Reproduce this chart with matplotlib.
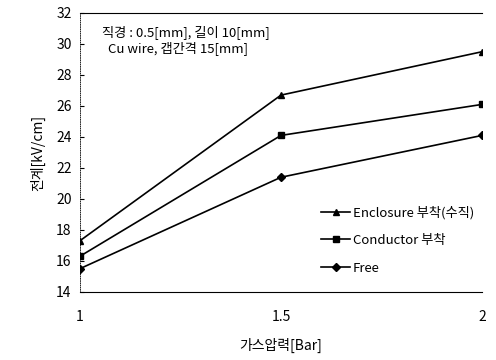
import matplotlib
matplotlib.use("Agg")
from matplotlib import pyplot as plt

plt.rcParams['font.family'] = ['Noto Sans CJK KR', 'DejaVu Sans']

pressure = [1, 1.5, 2]
enclosure = [17.3, 26.7, 29.5]
conductor = [16.3, 24.1, 26.1]
free = [15.5, 21.4, 24.1]
labels = ["Enclosure 부착(수직)", "Conductor 부착", "Free"]

fig = plt.figure(figsize=(4.96, 3.6), dpi=100)
ax = fig.add_axes([0.161, 0.189, 0.811, 0.775])

ax.plot(pressure, enclosure, color='black', lw=1.2, marker='^', ms=5, label=labels[0])
ax.plot(pressure, conductor, color='black', lw=1.2, marker='s', ms=5, label=labels[1])
ax.plot(pressure, free, color='black', lw=1.2, marker='D', ms=4, label=labels[2])

ax.set_xlim(1, 2)
ax.set_ylim(14, 32)
ax.set_xticks([1, 1.5, 2])
ax.set_xticklabels(["1", "1.5", "2"])
ax.set_yticks(range(14, 33, 2))

ax.spines['right'].set_visible(False)
ax.spines['left'].set_linestyle(':')
ax.spines['left'].set_linewidth(0.6)
ax.spines['top'].set_linewidth(0.8)
ax.spines['bottom'].set_linewidth(0.8)
ax.tick_params(axis='x', length=0, pad=13, labelsize=10)
ax.tick_params(axis='y', length=3, direction='in', labelsize=10, pad=6)

ax.set_xlabel("가스압력[Bar]", fontsize=10, labelpad=10)
ax.set_ylabel("전계[kV/cm]", fontsize=10, labelpad=8)

ax.text(0.055, 0.955, "직경 : 0.5[mm], 길이 10[mm]\n  Cu wire, 갭간격 15[mm]",
        transform=ax.transAxes, fontsize=9.5, va='top', ha='left', linespacing=1.1)

ax.legend(loc='lower right', frameon=False, fontsize=9.5, handlelength=2.2,
          labelspacing=1.1, handletextpad=0.2, bbox_to_anchor=(1.01, 0.02))

fig.savefig("out.png", dpi=100)
